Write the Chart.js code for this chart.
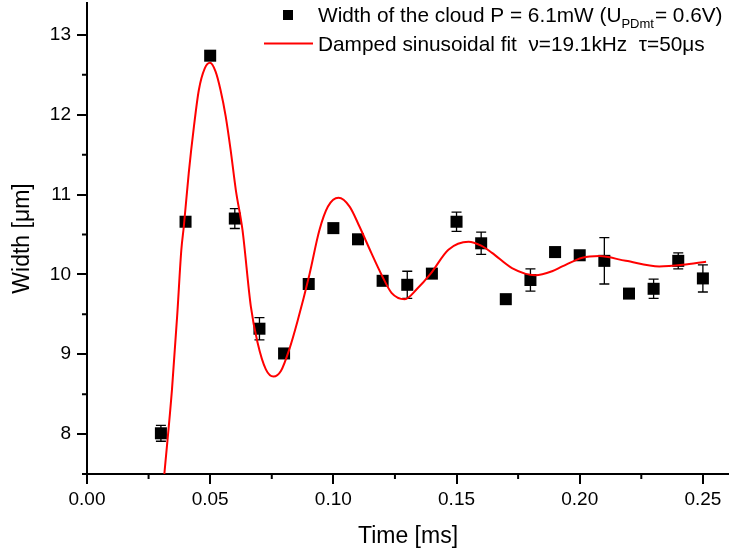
<!DOCTYPE html>
<html>
<head>
<meta charset="utf-8">
<script src="https://cdn.jsdelivr.net/npm/chart.js@4.4.0/dist/chart.umd.min.js"></script>
<style>
  html, body { margin: 0; padding: 0; background: #fff; }
  #wrap { width: 729px; height: 554px; }
</style>
</head>
<body>
<div id="wrap"><canvas id="chart" width="729" height="554"></canvas></div>
<script>
// measured cloud width
const timeMs   = [0.03, 0.04, 0.05, 0.06, 0.07, 0.08, 0.09, 0.10, 0.11, 0.12, 0.13, 0.14,
                  0.15, 0.16, 0.17, 0.18, 0.19, 0.20, 0.21, 0.22, 0.23, 0.24, 0.25];
const widthUm  = [8.01, 10.66, 12.74, 10.70, 9.32, 9.01, 9.88, 10.58, 10.44, 9.92, 9.87, 10.01,
                  10.66, 10.39, 9.69, 9.93, 10.28, 10.24, 10.17, 9.76, 9.82, 10.17, 9.95];
const widthErr = [0.10, 0.05, 0.05, 0.125, 0.14, 0.05, 0.05, 0.05, 0.05, 0.05, 0.17, 0.05,
                  0.12, 0.14, 0.05, 0.14, 0.05, 0.05, 0.29, 0.05, 0.12, 0.10, 0.17];

// damped sinusoidal fit
const fitTime  = [0.0314, 0.0345, 0.0366, 0.0383, 0.0393, 0.0413, 0.0434, 0.0454, 0.0478, 0.0499,
                  0.0522, 0.0542, 0.0563, 0.0583, 0.0604, 0.0631, 0.0665, 0.0692, 0.0726, 0.0757,
                  0.0787, 0.0821, 0.0855, 0.0903, 0.0943, 0.0978, 0.1021, 0.1066, 0.1106, 0.1154,
                  0.1195, 0.1236, 0.1290, 0.1340, 0.1395, 0.1467, 0.1549, 0.1600, 0.1644, 0.1725,
                  0.1820, 0.1888, 0.1929, 0.2011, 0.2079, 0.2187, 0.2323, 0.2418, 0.2513];
const fitWidth = [7.50, 8.56, 9.48, 10.31, 10.60, 11.27, 11.85, 12.31, 12.58, 12.65,
                  12.54, 12.31, 11.98, 11.56, 11.06, 10.56, 9.60, 9.15, 8.81, 8.72,
                  8.79, 9.06, 9.42, 10.00, 10.55, 10.85, 10.96, 10.85, 10.60, 10.27,
                  10.00, 9.77, 9.69, 9.82, 10.01, 10.31, 10.41, 10.36, 10.27, 10.08,
                  9.99, 10.04, 10.10, 10.21, 10.23, 10.17, 10.10, 10.12, 10.16];

const xTicks = [0.00, 0.05, 0.10, 0.15, 0.20, 0.25];
const xMinor = [0.025, 0.075, 0.125, 0.175, 0.225];
const yTicks = [8, 9, 10, 11, 12, 13];
const yMinor = [7.5, 8.5, 9.5, 10.5, 11.5, 12.5];

const legendPoints = 'Width of the cloud P = 6.1mW (U';
const legendSub = 'PDmt';
const legendTail = '= 0.6V)';
const legendFit = 'Damped sinusoidal fit  \u03BD=19.1kHz  \u03C4=50\u03BCs';

const FONT = '"Liberation Sans", Arial, sans-serif';

const errorBars = {
    id: 'errorBars',
    beforeDatasetsDraw(chart) {
        const { ctx, scales: { x, y } } = chart;
        ctx.save();
        ctx.strokeStyle = '#000';
        ctx.lineWidth = 1.3;
        timeMs.forEach((t, i) => {
            const px = x.getPixelForValue(t);
            const top = y.getPixelForValue(widthUm[i] + widthErr[i]);
            const bot = y.getPixelForValue(widthUm[i] - widthErr[i]);
            ctx.beginPath();
            ctx.moveTo(px, top); ctx.lineTo(px, bot);
            ctx.moveTo(px - 5, top); ctx.lineTo(px + 5, top);
            ctx.moveTo(px - 5, bot); ctx.lineTo(px + 5, bot);
            ctx.stroke();
        });
        ctx.restore();
    }
};

const minorTicks = {
    id: 'minorTicks',
    afterDraw(chart) {
        const { ctx, scales: { x, y }, chartArea } = chart;
        ctx.save();
        ctx.strokeStyle = '#000';
        ctx.lineWidth = 2;
        ctx.beginPath();
        xMinor.forEach(v => {
            const px = x.getPixelForValue(v);
            ctx.moveTo(px, chartArea.bottom);
            ctx.lineTo(px, chartArea.bottom + 5);
        });
        yMinor.forEach(v => {
            const py = y.getPixelForValue(v);
            ctx.moveTo(chartArea.left, py);
            ctx.lineTo(chartArea.left - 5, py);
        });
        ctx.stroke();
        ctx.restore();
    }
};

const legendBox = {
    id: 'legendBox',
    afterDraw(chart) {
        const ctx = chart.ctx;
        ctx.save();
        ctx.fillStyle = '#000';
        ctx.fillRect(283, 10, 10, 10);
        ctx.strokeStyle = '#ff0000';
        ctx.lineWidth = 2;
        ctx.beginPath();
        ctx.moveTo(264, 43.5);
        ctx.lineTo(313, 43.5);
        ctx.stroke();

        ctx.textBaseline = 'alphabetic';
        ctx.textAlign = 'left';
        let tx = 318;
        ctx.font = '20.8px ' + FONT;
        ctx.fillText(legendPoints, tx, 22);
        tx += ctx.measureText(legendPoints).width;
        ctx.font = '13px ' + FONT;
        ctx.fillText(legendSub, tx, 28);
        tx += ctx.measureText(legendSub).width + 1;
        ctx.font = '20.8px ' + FONT;
        ctx.fillText(legendTail, tx, 22);
        ctx.fillText(legendFit, 318, 51);
        ctx.restore();
    }
};

new Chart(document.getElementById('chart'), {
    data: {
        datasets: [
            {
                type: 'line',
                data: fitTime.map((t, i) => ({ x: t, y: fitWidth[i] })),
                borderColor: '#ff0000',
                borderWidth: 2,
                pointRadius: 0,
                cubicInterpolationMode: 'monotone',
                fill: false
            },
            {
                type: 'scatter',
                data: timeMs.map((t, i) => ({ x: t, y: widthUm[i] })),
                pointStyle: 'rect',
                pointRadius: 8.5,
                backgroundColor: '#000',
                borderWidth: 0
            }
        ]
    },
    options: {
        responsive: false,
        animation: false,
        layout: { autoPadding: false, padding: { top: 3, right: 0, left: 0, bottom: 0 } },
        plugins: { legend: { display: false }, tooltip: { enabled: false } },
        scales: {
            x: {
                type: 'linear',
                position: 'bottom',
                min: 0,
                max: 0.2606,
                border: { color: '#000', width: 2 },
                grid: { drawOnChartArea: false, tickLength: 10, tickColor: '#000', lineWidth: 2 },
                ticks: {
                    color: '#000',
                    font: { family: FONT, size: 19 },
                    padding: 4,
                    maxRotation: 0,
                    callback: v => Number(v).toFixed(2)
                },
                afterBuildTicks: s => { s.ticks = xTicks.map(v => ({ value: v })); },
                afterFit: s => {
                    s.height = 80;
                    s.paddingLeft = 0;
                    s.paddingRight = 0;
                },
                title: {
                    display: true,
                    text: 'Time [ms]',
                    color: '#000',
                    font: { family: FONT, size: 23 },
                    padding: { top: 4, bottom: 4 }
                }
            },
            y: {
                type: 'linear',
                min: 7.5,
                max: 13.4,
                border: { color: '#000', width: 2 },
                grid: { drawOnChartArea: false, tickLength: 10, tickColor: '#000', lineWidth: 2 },
                ticks: {
                    color: '#000',
                    font: { family: FONT, size: 19 },
                    padding: 6,
                    callback: v => String(v)
                },
                afterBuildTicks: s => { s.ticks = yTicks.map(v => ({ value: v })); },
                afterFit: s => {
                    s.width = 87;
                    s.paddingTop = 0;
                    s.paddingBottom = 0;
                },
                title: {
                    display: true,
                    text: 'Width [\u03BCm]',
                    color: '#000',
                    font: { family: FONT, size: 23 },
                    padding: { top: 9, bottom: 0 }
                }
            }
        }
    },
    plugins: [errorBars, minorTicks, legendBox]
});
</script>
</body>
</html>
